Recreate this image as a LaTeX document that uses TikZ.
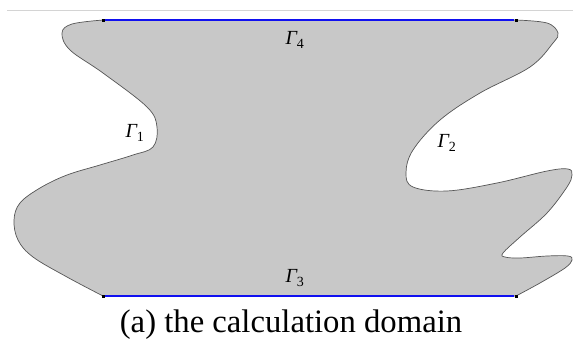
\documentclass[tikz,border=0pt]{standalone}
\usepackage{fontspec}
\setmainfont{Liberation Serif}
\definecolor{domain}{HTML}{C8C8C8}
\definecolor{edgegray}{HTML}{555555}
\definecolor{framegray}{HTML}{D4D4D4}
\definecolor{bndblue}{HTML}{1010F0}
\newcommand{\gam}[1]{{\itshape Γ}\textsubscript{#1}}
\begin{document}
\begin{tikzpicture}[x=1pt, y=-1pt,
    bnd/.style={draw=bndblue, line width=2pt},
    endpt/.style={fill=black, inner sep=0pt, minimum size=3pt},
    lbl/.style={font=\fontsize{20}{22}\selectfont}]
    \useasboundingbox (0,0) rectangle (573,343);
    \draw[framegray, line width=0.8pt] (7,10) -- (573,10);

    % Domain
    \filldraw[fill=domain, draw=edgegray, line width=0.7pt]
        plot[smooth, tension=0.6] coordinates {(103,20) (72,24) (62,33) (70,50) (103,73) (147,107) (157,127) (153,147) (133,155) (100,165) (67,175) (40,188) (20,203) (14,220) (18,240) (33,257) (67,277) (103,296)}
        -- plot[smooth, tension=0.6] coordinates {(516,296) (540,283) (565,268) (572,260) (568,256) (547,256) (520,258) (505,257) (503,253) (520,237) (547,213) (567,187) (572,175) (568,169) (547,171) (497,183) (447,191) (413,187) (406,173) (413,150) (440,120) (480,93) (530,67) (553,43) (558,33) (547,23) (516,20)}
        -- cycle;

    % Nodes
    \node[endpt] (TL) at (103,20) {};
    \node[endpt] (TR) at (516,20) {};
    \node[endpt] (BL) at (103,296) {};
    \node[endpt] (BR) at (516,296) {};

    % Lines
    \draw[bnd] (TL) -- (TR);
    \draw[bnd] (BL) -- (BR);

    \node[lbl] (G1) at (135,133) {\gam{1}};
    \node[lbl] (G2) at (447,143) {\gam{2}};
    \node[lbl] (G3) at (295,278) {\gam{3}};
    \node[lbl] (G4) at (295,40) {\gam{4}};
    \node[anchor=base, font=\fontsize{32.7}{36}\selectfont] (cap) at (291,332) {(a) the calculation domain};
\end{tikzpicture}
\end{document}
